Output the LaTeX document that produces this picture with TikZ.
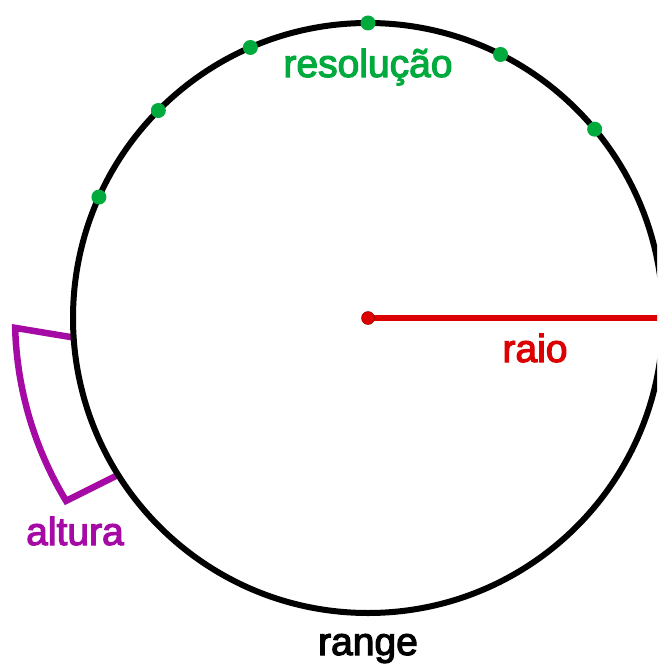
\documentclass[tikz,border=0pt]{standalone}
\usepackage{fontspec}
\setmainfont{Liberation Sans}
\newfontfamily\lblfont{Liberation Sans}[FakeBold=3]
\usetikzlibrary{calc}
\definecolor{cgreen}{RGB}{0,170,60}
\definecolor{cred}{RGB}{220,0,0}
\definecolor{cpurple}{RGB}{165,10,165}
\tikzset{
  lbl/.style={anchor=base, inner sep=0pt, font=\lblfont\fontsize{39pt}{44pt}\selectfont},
  gdot/.style={circle, fill=cgreen, inner sep=0pt, minimum size=15pt},
}
\begin{document}
\begin{tikzpicture}[x=1pt,y=-1pt]
\useasboundingbox (0,0) rectangle (657,671);
\clip (0,0) rectangle (657,671);
\coordinate (c) at (368,318);
% purple sector (altura)
\coordinate (p1) at ($(c)+(176.2:295)$);
\coordinate (p2) at ($(c)+(178.4:353)$);
\coordinate (p4) at ($(c)+(147.9:296)$);
\draw[cpurple, line width=6.5pt, line join=miter]
  (p1) -- (p2) arc[start angle=178.4, end angle=148.8, radius=353] -- (p4);
% circle
\draw[black, line width=6pt] (c) circle[radius=295];
% radius
\coordinate (redge) at (660,318);
\draw[cred, line width=6pt] (c) -- (redge);
\node[circle, fill=cred, draw=cred!70!black, line width=0.5pt, inner sep=0pt, minimum size=13pt] (cdot) at (c) {};
% resolution dots
\foreach \a/\n in {-39.8/d1, -63.3/d2, -90/d3, -113.5/d4, -135.3/d5, -155.8/d6}
  \node[gdot] (\n) at ($(c)+(\a:295)$) {};
% labels
\node[lbl, text=cgreen] (res) at (368,77) {resolução};
\node[lbl, text=cred] (raio) at (535,362) {raio};
\node[lbl, text=cpurple] (alt) at (75,545) {altura};
\node[lbl, text=black] (rng) at (368,655) {range};
\end{tikzpicture}
\end{document}
